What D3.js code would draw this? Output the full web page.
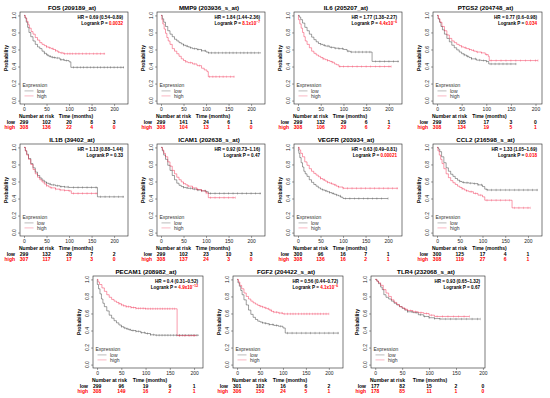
<!DOCTYPE html>
<html>
<head>
<meta charset="utf-8">
<script src="https://cdn.jsdelivr.net/npm/d3@7"></script>
<style>
  body { margin: 0; background: #fff; }
  svg { display: block; font-family: "Liberation Sans", Arial, sans-serif; }
</style>
</head>
<body>
<div id="chart"></div>
<script>
// ---- data ----
const titles = ["FOS (209189_at)", "MMP9 (203936_s_at)", "IL6 (205207_at)", "PTGS2 (204748_at)",
  "IL1B (39402_at)", "ICAM1 (202638_s_at)", "VEGFR (203934_at)", "CCL2 (216598_s_at)",
  "PECAM1 (208982_at)", "FGF2 (204422_s_at)", "TLR4 (232068_s_at)"];

const hrLabels = ["HR = 0.69 (0.54–0.89)", "HR = 1.84 (1.44–2.36)", "HR = 1.77 (1.38–2.27)", "HR = 0.77 (0.6–0.98)",
  "HR = 1.13 (0.88–1.44)", "HR = 0.92 (0.73–1.16)", "HR = 0.63 (0.49–0.81)", "HR = 1.33 (1.05–1.69)",
  "HR = 0.4 (0.31–0.52)", "HR = 0.56 (0.44–0.72)", "HR = 0.93 (0.65–1.32)"];

// p value: mantissa text, optional exponent
const pValues = [["0.0032", null], ["8.1x10", "−7"], ["4.4x10", "−6"], ["0.034", null],
  ["0.33", null], ["0.47", null], ["0.00021", null], ["0.018", null],
  ["4.9x10", "−12"], ["4.1x10", "−6"], ["0.67", null]];
const pSignificant = [true, true, true, true, false, false, true, true, true, true, false];

const xTicks = [0, 50, 100, 150, 200];
const yTicks = [0, 0.2, 0.4, 0.6, 0.8, 1.0];
const riskTimes = [0, 50, 100, 150, 200];

const riskLow = [[299, 102, 20, 8, 3], [299, 141, 24, 6, 1], [299, 132, 29, 6, 1], [299, 105, 17, 3, 0],
  [299, 132, 28, 7, 2], [299, 102, 23, 10, 3], [300, 96, 16, 7, 1], [300, 125, 17, 4, 1],
  [299, 96, 19, 9, 1], [301, 102, 16, 6, 2], [177, 82, 15, 2, 0]];
const riskHigh = [[308, 136, 22, 4, 0], [308, 104, 13, 1, 0], [308, 106, 20, 6, 2], [308, 134, 19, 5, 1],
  [307, 117, 17, 3, 0], [308, 137, 24, 3, 0], [308, 136, 16, 2, 1], [308, 119, 27, 6, 1],
  [308, 149, 16, 2, 1], [306, 150, 24, 5, 1], [178, 85, 11, 1, 0]];

// longest follow-up of each panel (months) and end of each curve
const maxTime = [222, 222, 220, 205, 222, 222, 222, 222, 210, 222, 196];
const lowEnd = [222, 222, 222, 161, 222, 222, 200, 222, 210, 222, 195];
const highEnd = [180, 163, 205, 205, 163, 165, 222, 205, 205, 200, 175];

// survival steps [months, probability]
const fosLow = [[0,1],[2,0.97],[5,0.92],[8,0.86],[11,0.80],[15,0.75],[20,0.70],[25,0.66],[30,0.63],[35,0.61],[40,0.58],[45,0.555],[50,0.535],[55,0.52],[60,0.51],[65,0.505],[70,0.50],[80,0.48],[90,0.47],[100,0.455],[104,0.39]];
const fosHigh = [[0,1],[3,0.97],[6,0.93],[9,0.89],[12,0.85],[16,0.81],[20,0.78],[25,0.74],[30,0.71],[35,0.68],[40,0.66],[45,0.645],[50,0.63],[55,0.62],[60,0.61],[65,0.60],[70,0.585],[75,0.57],[80,0.56],[88,0.55]];
const mmp9Low = [[0,1],[3,0.96],[6,0.92],[10,0.87],[15,0.82],[20,0.78],[25,0.75],[30,0.72],[35,0.70],[40,0.68],[45,0.665],[50,0.65],[55,0.64],[60,0.63],[65,0.62],[70,0.61],[80,0.60],[90,0.585],[100,0.57],[105,0.56]];
const mmp9High = [[0,1],[2,0.95],[4,0.90],[7,0.84],[10,0.79],[13,0.74],[16,0.70],[20,0.66],[25,0.61],[30,0.58],[35,0.55],[40,0.52],[45,0.49],[50,0.47],[55,0.455],[60,0.445],[70,0.43],[80,0.41],[90,0.38],[96,0.36],[102,0.34],[105,0.28]];
const il6Low = [[0,1],[3,0.98],[6,0.95],[10,0.91],[15,0.86],[20,0.82],[25,0.78],[30,0.745],[35,0.715],[40,0.69],[45,0.67],[50,0.66],[55,0.65],[60,0.64],[70,0.625],[80,0.615],[90,0.61],[100,0.60],[108,0.58],[115,0.57],[163,0.46]];
const il6High = [[0,1],[1,0.95],[4,0.90],[7,0.85],[10,0.80],[13,0.75],[16,0.70],[20,0.66],[25,0.62],[30,0.58],[35,0.555],[40,0.535],[45,0.52],[50,0.505],[55,0.49],[60,0.48],[65,0.47],[70,0.46],[75,0.45],[80,0.43],[85,0.42],[90,0.40]];
const ptgs2Low = [[0,1],[2,0.96],[5,0.92],[8,0.87],[11,0.83],[15,0.78],[20,0.73],[25,0.69],[30,0.65],[35,0.62],[40,0.595],[45,0.57],[50,0.55],[55,0.535],[60,0.52],[65,0.505],[70,0.49],[80,0.475],[90,0.47],[100,0.46],[105,0.43]];
const ptgs2High = [[0,1],[3,0.96],[6,0.92],[10,0.87],[15,0.82],[20,0.77],[25,0.73],[30,0.70],[35,0.68],[40,0.66],[45,0.645],[50,0.63],[55,0.62],[60,0.61],[65,0.60],[70,0.59],[75,0.58],[80,0.57],[90,0.56],[98,0.54],[104,0.52],[106,0.47]];
const il1bLow = [[0,1],[3,0.96],[6,0.92],[10,0.87],[15,0.81],[20,0.76],[25,0.71],[30,0.67],[35,0.64],[40,0.615],[45,0.595],[50,0.58],[55,0.57],[60,0.56],[70,0.55],[80,0.54],[90,0.535],[100,0.53],[163,0.42]];
const il1bHigh = [[0,1],[3,0.96],[6,0.91],[10,0.86],[15,0.80],[20,0.74],[25,0.69],[30,0.65],[35,0.62],[40,0.595],[45,0.57],[50,0.55],[55,0.535],[60,0.525],[70,0.51],[80,0.50],[90,0.495],[100,0.49],[105,0.46]];
const icam1Low = [[0,1],[3,0.96],[6,0.91],[10,0.86],[15,0.79],[20,0.73],[25,0.67],[30,0.62],[35,0.58],[40,0.555],[45,0.54],[50,0.53],[55,0.525],[60,0.52],[70,0.51],[80,0.50],[90,0.49],[100,0.48],[105,0.46]];
const icam1High = [[0,1],[3,0.97],[6,0.93],[10,0.89],[15,0.83],[20,0.78],[25,0.73],[30,0.69],[35,0.65],[40,0.62],[45,0.595],[50,0.575],[55,0.56],[60,0.545],[70,0.525],[80,0.505],[90,0.49],[100,0.465],[105,0.41]];
const vegfrLow = [[0,1],[1,0.96],[2,0.93],[4,0.88],[7,0.82],[10,0.77],[13,0.72],[16,0.69],[20,0.66],[25,0.62],[30,0.59],[35,0.565],[40,0.545],[45,0.525],[50,0.51],[55,0.50],[60,0.49],[65,0.48],[70,0.47],[75,0.46],[80,0.45],[85,0.44],[90,0.43],[95,0.415],[100,0.40]];
const vegfrHigh = [[0,1],[3,0.97],[6,0.93],[10,0.89],[15,0.83],[20,0.79],[25,0.75],[30,0.72],[35,0.695],[40,0.675],[45,0.655],[50,0.635],[55,0.62],[60,0.605],[65,0.59],[70,0.58],[75,0.57],[80,0.56],[85,0.545],[90,0.535],[100,0.52]];
const ccl2Low = [[0,1],[3,0.98],[6,0.95],[10,0.89],[15,0.82],[20,0.76],[25,0.72],[30,0.685],[35,0.66],[40,0.635],[45,0.615],[50,0.60],[55,0.59],[60,0.585],[70,0.58],[80,0.575],[90,0.56],[100,0.54],[105,0.51],[110,0.50]];
const ccl2High = [[0,1],[2,0.96],[5,0.91],[8,0.86],[11,0.81],[15,0.75],[20,0.69],[25,0.645],[30,0.61],[35,0.585],[40,0.565],[45,0.545],[50,0.53],[55,0.515],[60,0.50],[65,0.49],[70,0.48],[80,0.46],[90,0.44],[100,0.42],[105,0.38],[165,0.29]];
const pecam1Low = [[0,1],[0.5,0.94],[3,0.89],[6,0.83],[9,0.77],[12,0.72],[15,0.68],[20,0.63],[25,0.58],[30,0.545],[35,0.515],[40,0.49],[45,0.465],[50,0.445],[55,0.43],[60,0.42],[65,0.41],[70,0.40],[80,0.39],[90,0.375],[100,0.365],[110,0.35],[120,0.345]];
const pecam1High = [[0,1],[2,0.97],[5,0.94],[10,0.90],[15,0.86],[20,0.82],[25,0.79],[30,0.765],[35,0.745],[40,0.73],[45,0.715],[50,0.70],[55,0.69],[60,0.68],[70,0.67],[80,0.66],[100,0.655],[165,0.34]];
const fgf2Low = [[0,1],[2,0.96],[5,0.92],[8,0.87],[11,0.82],[15,0.76],[20,0.70],[25,0.64],[30,0.59],[35,0.555],[40,0.53],[45,0.51],[50,0.50],[55,0.49],[60,0.485],[65,0.48],[70,0.47],[80,0.46],[90,0.45],[100,0.43],[105,0.37]];
const fgf2High = [[0,1],[3,0.97],[6,0.93],[10,0.89],[15,0.84],[20,0.80],[25,0.77],[30,0.745],[35,0.725],[40,0.71],[45,0.695],[50,0.685],[55,0.675],[60,0.665],[65,0.655],[70,0.64],[75,0.625],[80,0.615],[90,0.605],[100,0.595]];
const tlr4Low = [[0,1],[3,0.98],[6,0.95],[10,0.91],[13,0.88],[16,0.82],[20,0.79],[25,0.77],[30,0.745],[35,0.72],[40,0.70],[45,0.68],[50,0.66],[55,0.64],[60,0.62],[70,0.61],[80,0.585],[90,0.565],[100,0.55],[110,0.54],[120,0.535]];
const tlr4High = [[0,1],[3,0.98],[6,0.96],[10,0.93],[15,0.88],[20,0.84],[25,0.80],[30,0.76],[35,0.73],[40,0.705],[45,0.68],[50,0.665],[55,0.65],[60,0.635],[70,0.62],[80,0.61],[90,0.60],[100,0.58],[110,0.565]];

// censoring times (months)
const fosLowCens = [45,52,58,63,68,75,82,88,95,110,118,125,132,140,148,155,163,170,178,185,192,200,208,215,221];
const fosHighCens = [50,57,64,70,77,84,90,96,102,108,115,122,130,138,146,154,162,170,178];
const mmp9LowCens = [50,58,66,74,82,90,98,106,112,120,128,136,144,152,160,168,176,184,192,200,208,216];
const mmp9HighCens = [55,65,75,85,108,115,122,130,138,146,154,162];
const il6LowCens = [50,58,66,74,82,90,98,110,118,126,134,142,150,158,170,180,190,200,210,220];
const il6HighCens = [55,65,75,92,100,110,120,130,140,150,160,170,180,190,200,205];
const ptgs2LowCens = [55,62,70,78,86,94,100,110,118,126,134,142,150,160];
const ptgs2HighCens = [50,58,66,74,82,90,100,110,120,130,140,150,160,170,180,190,200,205];
const il1bLowCens = [50,58,66,74,82,90,98,110,120,130,140,150,160,170,180,190,200,210,220];
const il1bHighCens = [50,60,70,80,90,100,110,120,130,140,150,160];
const icam1LowCens = [50,58,66,74,82,90,98,110,120,130,140,150,160,170,180,190,200,210,220];
const icam1HighCens = [50,60,70,80,90,100,110,120,130,140,150,160,165];
const vegfrLowCens = [55,62,70,78,86,94,105,115,125,135,145,155,165,175,185,200];
const vegfrHighCens = [50,58,66,74,82,90,100,110,120,130,140,150,160,170,180,190,200,210,220];
const ccl2LowCens = [50,58,66,74,82,90,98,110,120,130,140,150,160,170,180,190,200,210,220];
const ccl2HighCens = [55,65,75,85,95,110,120,130,140,150,160,170,180,190,200,205];
const pecam1LowCens = [50,56,62,68,74,80,86,92,98,104,110,116,122,128,134,140,146,152,158,164,170,176,182,188,194,200,206];
const pecam1HighCens = [45,50,55,60,65,70,75,80,85,90,95,100,105,110,115,120,125,130,135,140,145,150,155,160,170,180,190,200];
const fgf2LowCens = [55,62,70,78,86,94,110,120,130,140,150,160,170,180,190,200,210,220];
const fgf2HighCens = [50,56,62,68,74,80,86,92,98,104,110,116,122,128,134,140,146,152,158,164,170,176,182,188,194,200];
const tlr4LowCens = [60,68,76,84,92,100,110,120,130,140,150,160,170,180,190,195];
const tlr4HighCens = [55,65,75,85,95,105,115,125,135,145,155,165,175];

const lowCurves = [fosLow, mmp9Low, il6Low, ptgs2Low, il1bLow, icam1Low, vegfrLow, ccl2Low, pecam1Low, fgf2Low, tlr4Low];
const highCurves = [fosHigh, mmp9High, il6High, ptgs2High, il1bHigh, icam1High, vegfrHigh, ccl2High, pecam1High, fgf2High, tlr4High];
const lowCens = [fosLowCens, mmp9LowCens, il6LowCens, ptgs2LowCens, il1bLowCens, icam1LowCens, vegfrLowCens, ccl2LowCens, pecam1LowCens, fgf2LowCens, tlr4LowCens];
const highCens = [fosHighCens, mmp9HighCens, il6HighCens, ptgs2HighCens, il1bHighCens, icam1HighCens, vegfrHighCens, ccl2HighCens, pecam1HighCens, fgf2HighCens, tlr4HighCens];

// ---- layout ----
const width = 550, height = 398;
const boxLeft = [20, 157, 294, 433, 20, 157, 294, 433, 93, 233, 371];
const boxTop = [12, 12, 12, 12, 144, 144, 144, 144, 276, 276, 276];
const boxWidth = [108, 108, 108, 109, 108, 108, 108, 109, 110, 110, 114];
const boxHeight = 92;
const red = "#ff0000";
const curveRed = "#f0143c";

const svg = d3.select("#chart").append("svg")
  .attr("width", width)
  .attr("height", height);

titles.forEach((t, i) => drawPanel(svg, i));

// value of the step curve at time t
function survivalAt(curve, t) {
  let s = curve[0][1];
  for (const p of curve) {
    if (p[0] <= t) s = p[1];
  }
  return s;
}

function drawPanel(svg, i) {
  const bx = boxLeft[i], by = boxTop[i], bw = boxWidth[i], bh = boxHeight;
  const tmax = maxTime[i];

  const x = d3.scaleLinear().domain([-0.04 * tmax, 1.04 * tmax]).range([bx, bx + bw]);
  const y = d3.scaleLinear().domain([-0.04, 1.04]).range([by + bh, by]);

  const g = svg.append("g");

  // title
  g.append("text")
    .attr("x", bx + bw / 2 - 2)
    .attr("y", by - 2.5)
    .attr("text-anchor", "middle")
    .style("font-size", "6.2px")
    .style("font-weight", "bold")
    .text(titles[i]);

  // axes
  const xAxis = g.append("g")
    .attr("transform", `translate(0, ${by + bh})`)
    .call(d3.axisBottom(x).tickValues(xTicks).tickSize(2).tickPadding(1.2));
  xAxis.select(".domain").remove();
  xAxis.selectAll("line").attr("stroke", "#444").attr("stroke-width", 0.5);
  xAxis.selectAll("text").style("font-size", "5px").attr("fill", "#222").attr("font-family", null);

  const yAxis = g.append("g")
    .attr("transform", `translate(${bx}, 0)`)
    .call(d3.axisLeft(y).tickValues(yTicks).tickSize(2).tickFormat(""));
  yAxis.select(".domain").remove();
  yAxis.selectAll("line").attr("stroke", "#444").attr("stroke-width", 0.5);

  g.selectAll(".ylab")
    .data(yTicks)
    .enter()
    .append("text")
    .attr("transform", d => `translate(${bx - 4.5}, ${y(d)}) rotate(-90)`)
    .attr("text-anchor", "middle")
    .style("font-size", "5px")
    .attr("fill", "#222")
    .text(d => d.toFixed(1));

  g.append("text")
    .attr("transform", `translate(${bx - 12}, ${by + bh / 2}) rotate(-90)`)
    .attr("text-anchor", "middle")
    .style("font-size", "5px")
    .style("font-weight", "bold")
    .text("Probability");

  // curves
  const line = d3.line()
    .x(d => x(d[0]))
    .y(d => y(d[1]))
    .curve(d3.curveStepAfter);

  const series = [
    { curve: lowCurves[i], end: lowEnd[i], cens: lowCens[i], color: "#222" },
    { curve: highCurves[i], end: highEnd[i], cens: highCens[i], color: curveRed },
  ];

  series.forEach(s => {
    const last = s.curve[s.curve.length - 1];
    const pts = s.curve.concat([[s.end, last[1]]]);
    g.append("path")
      .datum(pts)
      .attr("d", line)
      .attr("fill", "none")
      .attr("stroke", s.color)
      .attr("stroke-width", 0.5)
      .attr("opacity", 0.85);

    g.selectAll(null)
      .data(s.cens)
      .enter()
      .append("line")
      .attr("x1", d => x(d))
      .attr("x2", d => x(d))
      .attr("y1", d => y(survivalAt(s.curve, d)) - 1.2)
      .attr("y2", d => y(survivalAt(s.curve, d)) + 1.2)
      .attr("stroke", s.color)
      .attr("stroke-width", 0.4)
      .attr("opacity", 0.6);
  });

  // frame
  g.append("rect")
    .attr("x", bx)
    .attr("y", by)
    .attr("width", bw)
    .attr("height", bh)
    .attr("fill", "none")
    .attr("stroke", "#222")
    .attr("stroke-width", 0.6);

  // HR and logrank p
  g.append("text")
    .attr("x", bx + bw - 5)
    .attr("y", by + 6.5)
    .attr("text-anchor", "end")
    .style("font-size", "4.6px")
    .style("font-weight", "bold")
    .text(hrLabels[i]);

  const pText = g.append("text")
    .attr("x", bx + bw - 5)
    .attr("y", by + 12.5)
    .attr("text-anchor", "end")
    .style("font-size", "4.6px")
    .style("font-weight", "bold");
  pText.append("tspan").text("Logrank P = ");
  const pColor = pSignificant[i] ? red : "#000";
  pText.append("tspan").attr("fill", pColor).text(pValues[i][0]);
  if (pValues[i][1]) {
    pText.append("tspan")
      .attr("fill", pColor)
      .attr("dy", -1.6)
      .style("font-size", "3.3px")
      .text(pValues[i][1]);
  }

  // legend
  const lg = g.append("g");
  lg.append("text")
    .attr("x", bx + 2.5)
    .attr("y", by + bh - 17)
    .style("font-size", "5px")
    .attr("fill", "#333")
    .text("Expression");
  const legendItems = [["low", "#222", bh - 11.5], ["high", curveRed, bh - 6.5]];
  legendItems.forEach(d => {
    lg.append("line")
      .attr("x1", bx + 4.5)
      .attr("x2", bx + 13.5)
      .attr("y1", by + d[2] - 1.6)
      .attr("y2", by + d[2] - 1.6)
      .attr("stroke", d[1])
      .attr("stroke-width", 0.5)
      .attr("opacity", 0.6);
    lg.append("text")
      .attr("x", bx + 17)
      .attr("y", by + d[2])
      .style("font-size", "5px")
      .attr("fill", "#333")
      .text(d[0]);
  });

  // number at risk table
  const base = by + bh;
  g.append("text")
    .attr("x", bx - 1)
    .attr("y", base + 13.5)
    .style("font-size", "5px")
    .style("font-weight", "bold")
    .text("Number at risk");
  g.append("text")
    .attr("x", bx + bw / 2 + 2)
    .attr("y", base + 13.5)
    .attr("text-anchor", "middle")
    .style("font-size", "5px")
    .style("font-weight", "bold")
    .text("Time (months)");

  const rows = [["low", riskLow[i], "#000", 19.5], ["high", riskHigh[i], red, 24.8]];
  rows.forEach(r => {
    g.append("text")
      .attr("x", bx - 5)
      .attr("y", base + r[3])
      .attr("text-anchor", "end")
      .style("font-size", "5px")
      .style("font-weight", "bold")
      .attr("fill", r[2])
      .text(r[0]);
    g.selectAll(null)
      .data(r[1])
      .enter()
      .append("text")
      .attr("x", (d, k) => x(riskTimes[k]))
      .attr("y", base + r[3])
      .attr("text-anchor", "middle")
      .style("font-size", "5px")
      .style("font-weight", "bold")
      .attr("fill", r[2])
      .text(d => d);
  });
}
</script>
</body>
</html>
